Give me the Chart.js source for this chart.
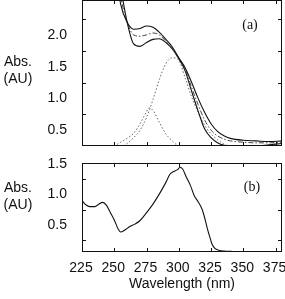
<!DOCTYPE html>
<html>
<head>
<meta charset="utf-8">
<script src="https://cdn.jsdelivr.net/npm/chart.js@4/dist/chart.umd.min.js"></script>
<style>
  body { margin: 0; background: #fff; }
  canvas { position: absolute; left: 0; }
  #cA { top: 0; }
  #cB { top: 150px; }
</style>
</head>
<body>
<canvas id="cA" width="285" height="150"></canvas>
<canvas id="cB" width="285" height="149"></canvas>
<script>
// Datos
const xTicks = [225, 250, 275, 300, 325, 350, 375];

// Panel (a)
const wlA = [250, 255, 260, 265, 270, 275, 280, 285, 290, 295, 300, 305, 310, 315, 320, 325, 330, 335, 340, 350, 360, 370, 380];
const absSup = [3.2, 2.48, 2.2, 2.09, 2.1, 2.14, 2.12, 2.04, 1.93, 1.81, 1.64, 1.48, 1.25, 1.0, 0.78, 0.6, 0.48, 0.41, 0.37, 0.34, 0.33, 0.32, 0.33];
const absMed = [3.3, 2.6, 2.2, 2.0, 1.98, 2.0, 2.03, 2.0, 1.9, 1.78, 1.62, 1.46, 1.17, 0.9, 0.66, 0.5, 0.41, 0.36, 0.33, 0.31, 0.3, 0.3, 0.31];
const absInf = [3.4, 2.75, 2.2, 1.86, 1.82, 1.88, 1.93, 1.94, 1.88, 1.78, 1.63, 1.43, 1.11, 0.8, 0.52, 0.38, 0.3, 0.26, 0.25, 0.24, 0.25, 0.27, 0.29];
const wlG1 = [245, 250, 255, 260, 265, 270, 275, 277, 280, 285, 290, 295, 300, 305];
const absG1 = [0.2, 0.25, 0.31, 0.37, 0.45, 0.6, 0.79, 0.85, 0.81, 0.62, 0.44, 0.33, 0.24, 0.18];
const wlG2 = [255, 260, 265, 270, 275, 280, 285, 290, 295, 300, 305, 310, 315, 320, 325, 330, 335, 340];
const absG2 = [0.22, 0.29, 0.38, 0.5, 0.7, 0.98, 1.3, 1.55, 1.64, 1.6, 1.32, 1.02, 0.78, 0.58, 0.44, 0.35, 0.28, 0.24];
const yTicksA = [0.5, 1.0, 1.5, 2.0];
const yMarksA = [0.75, 1.25, 1.75, 2.25];

// Panel (b)
const wlB = [225, 228, 231, 235, 238, 241, 244, 247, 250, 253, 255, 258, 262, 266, 270, 275, 280, 285, 290, 293, 296, 299, 301, 303, 306, 309, 312, 315, 318, 320, 322, 324, 326, 328, 331, 335, 341];
const absB = [0.9, 0.83, 0.8, 0.8, 0.84, 0.87, 0.82, 0.7, 0.58, 0.43, 0.38, 0.41, 0.47, 0.51, 0.57, 0.7, 0.84, 1.01, 1.2, 1.33, 1.38, 1.41, 1.45, 1.42, 1.28, 1.15, 0.98, 0.88, 0.76, 0.62, 0.45, 0.3, 0.17, 0.11, 0.08, 0.065, 0.06];
const yTicksB = [0.5, 1.0, 1.5];
const yMarksB = [0.25, 0.75, 1.25];

const FONT = 'Liberation Sans, Arial, sans-serif';

function puntos(xs, ys) {
    return xs.map((x, i) => ({ x: x, y: ys[i] }));
}

function serie(xs, ys, color, dash, width) {
    return {
        data: puntos(xs, ys),
        borderColor: color,
        borderWidth: width,
        borderDash: dash,
        pointRadius: 0,
        fill: false,
        cubicInterpolationMode: 'monotone'
    };
}

// Marco, marcas hacia dentro y textos
const marco = {
    id: 'marco',
    afterDraw(chart, args, o) {
        const ctx = chart.ctx;
        const a = chart.chartArea;
        const sx = chart.scales.x, sy = chart.scales.y;
        ctx.save();
        ctx.strokeStyle = '#111';
        ctx.lineWidth = 1;
        ctx.strokeRect(Math.round(a.left) + 0.5, Math.round(a.top) + 0.5,
            Math.round(a.right - a.left) - 1, Math.round(a.bottom - a.top) - 1);
        ctx.beginPath();
        xTicks.forEach(v => {
            const px = Math.round(sx.getPixelForValue(v)) + 0.5;
            ctx.moveTo(px, a.bottom); ctx.lineTo(px, a.bottom - 4);
            ctx.moveTo(px, a.top); ctx.lineTo(px, a.top + 4);
        });
        o.marcasY.forEach(v => {
            const py = Math.round(sy.getPixelForValue(v)) + 0.5;
            ctx.moveTo(a.left, py); ctx.lineTo(a.left + 4, py);
            ctx.moveTo(a.right, py); ctx.lineTo(a.right - 4, py);
        });
        ctx.stroke();

        ctx.fillStyle = '#111';
        ctx.textAlign = 'center';
        ctx.textBaseline = 'middle';
        ctx.font = '14px ' + FONT;
        ctx.fillText('Abs.', 18, o.tituloY);
        ctx.fillText('(AU)', 18, o.tituloY + 17);
        ctx.font = '14px Liberation Serif, Times New Roman, serif';
        ctx.fillText(o.panel, o.panelX, o.panelY);
        ctx.restore();
    }
};

function ejeY(min, max, ticks) {
    return {
        type: 'linear',
        min: min,
        max: max,
        afterFit(scale) {
            scale.width = 82;
            scale.paddingTop = 0;
            scale.paddingBottom = 0;
        },
        afterBuildTicks(scale) { scale.ticks = ticks.map(v => ({ value: v })); },
        grid: { display: false, drawTicks: false },
        border: { display: false },
        ticks: {
            padding: 15,
            color: '#111',
            font: { family: FONT, size: 14 },
            callback: v => v.toFixed(1)
        }
    };
}

new Chart(document.getElementById('cA'), {
    type: 'line',
    data: {
        datasets: [
            serie(wlA, absSup, '#111', [], 1.1),
            serie(wlA, absMed, '#444', [5, 2, 1.5, 2], 1),
            serie(wlA, absInf, '#111', [], 1.1),
            serie(wlG1, absG1, '#666', [1.5, 2], 1),
            serie(wlG2, absG2, '#666', [1.5, 2], 1)
        ]
    },
    options: {
        responsive: false,
        animation: false,
        devicePixelRatio: 1,
        layout: { autoPadding: false, padding: { top: 0, right: 3, bottom: 4, left: 0 } },
        plugins: {
            legend: { display: false },
            tooltip: { enabled: false },
            marco: { marcasY: yMarksA, tituloY: 62, panel: '(a)', panelX: 250, panelY: 25 }
        },
        scales: {
            x: { type: 'linear', min: 225, max: 380, display: false },
            y: ejeY(0.25, 2.55, yTicksA)
        }
    },
    plugins: [marco]
});

new Chart(document.getElementById('cB'), {
    type: 'line',
    data: {
        datasets: [serie(wlB, absB, '#111', [], 1.1)]
    },
    options: {
        responsive: false,
        animation: false,
        devicePixelRatio: 1,
        layout: { autoPadding: false, padding: { top: 13, right: 3, bottom: 0, left: 0 } },
        plugins: {
            legend: { display: false },
            tooltip: { enabled: false },
            marco: { marcasY: yMarksB, tituloY: 38, panel: '(b)', panelX: 252, panelY: 37 }
        },
        scales: {
            x: {
                type: 'linear',
                min: 225,
                max: 380,
                afterFit(scale) {
                    scale.height = 47;
                    scale.paddingLeft = 0;
                    scale.paddingRight = 0;
                },
                afterBuildTicks(scale) { scale.ticks = xTicks.map(v => ({ value: v })); },
                grid: { display: false, drawTicks: false },
                border: { display: false },
                ticks: {
                    padding: 8,
                    labelOffset: -1,
                    maxRotation: 0,
                    autoSkip: false,
                    color: '#111',
                    font: { family: FONT, size: 14 }
                },
                title: {
                    display: true,
                    text: 'Wavelength (nm)',
                    color: '#111',
                    font: { family: FONT, size: 14 },
                    padding: { top: 2, bottom: 6 }
                }
            },
            y: ejeY(0.05, 1.52, yTicksB)
        }
    },
    plugins: [marco]
});
</script>
</body>
</html>
